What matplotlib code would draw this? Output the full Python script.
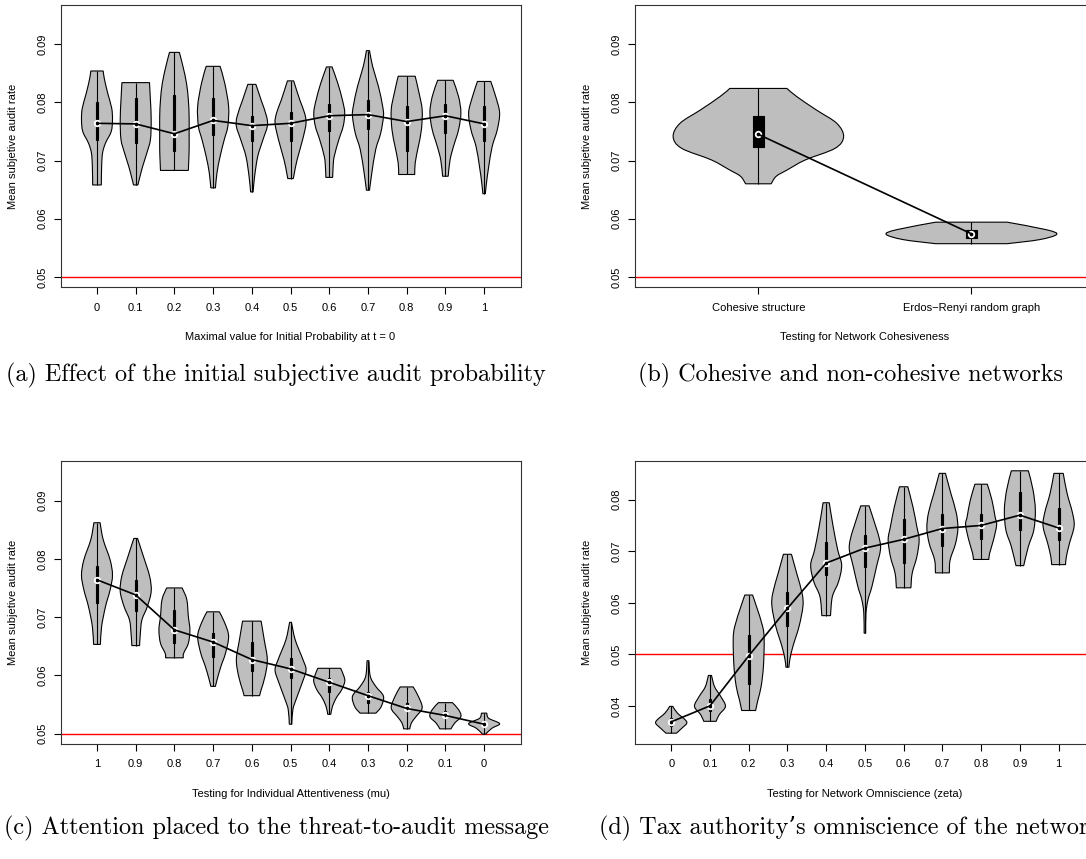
import matplotlib
matplotlib.use("Agg")
import matplotlib.pyplot as plt
from matplotlib.path import Path
from matplotlib.patches import PathPatch, Rectangle

plt.rcParams['font.family'] = ['Liberation Sans', 'DejaVu Sans']

# ---------------- data ----------------
# (a) initial probability
a_labels = ['0', '0.1', '0.2', '0.3', '0.4', '0.5', '0.6', '0.7', '0.8', '0.9', '1']
a_med = [0.0764, 0.0763, 0.0746, 0.0769, 0.0760, 0.0764, 0.0777, 0.0779, 0.0767, 0.0777, 0.0763]
a_q1 = [0.0735, 0.0730, 0.0716, 0.0744, 0.0734, 0.0733, 0.0750, 0.0755, 0.0717, 0.0748, 0.0733]
a_q3 = [0.0800, 0.0807, 0.0813, 0.0807, 0.0777, 0.0783, 0.0798, 0.0804, 0.0794, 0.0798, 0.0794]
# violin outline: (value, relative half width) from bottom to top
a_prof = [
    [(0.0658, 0.28), (0.0690, 0.30), (0.0713, 0.36), (0.0730, 0.55), (0.0750, 0.92), (0.0770, 1.0), (0.0790, 0.95), (0.0815, 0.70), (0.0840, 0.48), (0.0854, 0.40)],
    [(0.0658, 0.14), (0.0673, 0.28), (0.0690, 0.45), (0.0713, 0.72), (0.0736, 0.95), (0.0770, 1.0), (0.0804, 0.95), (0.0834, 0.89)],
    [(0.0683, 0.90), (0.0696, 0.92), (0.0719, 0.95), (0.0747, 0.95), (0.0776, 0.95), (0.0804, 0.90), (0.0833, 0.78), (0.0862, 0.55), (0.0886, 0.32)],
    [(0.0653, 0.15), (0.0679, 0.25), (0.0707, 0.45), (0.0736, 0.72), (0.0759, 0.95), (0.0793, 1.0), (0.0833, 0.75), (0.0862, 0.45)],
    [(0.0646, 0.08), (0.0673, 0.18), (0.0707, 0.38), (0.0736, 0.72), (0.0759, 1.0), (0.0776, 0.95), (0.0804, 0.60), (0.0831, 0.26)],
    [(0.0669, 0.18), (0.0679, 0.25), (0.0701, 0.42), (0.0736, 0.78), (0.0764, 1.0), (0.0782, 0.90), (0.0804, 0.60), (0.0837, 0.20)],
    [(0.0671, 0.22), (0.0690, 0.25), (0.0707, 0.32), (0.0736, 0.62), (0.0759, 0.90), (0.0782, 1.0), (0.0804, 0.85), (0.0833, 0.55), (0.0861, 0.18)],
    [(0.0649, 0.10), (0.0679, 0.25), (0.0719, 0.50), (0.0747, 0.82), (0.0776, 1.0), (0.0793, 0.95), (0.0827, 0.68), (0.0862, 0.30), (0.0889, 0.10)],
    [(0.0676, 0.52), (0.0696, 0.55), (0.0724, 0.75), (0.0753, 0.95), (0.0787, 1.0), (0.0816, 0.80), (0.0845, 0.55)],
    [(0.0673, 0.18), (0.0701, 0.30), (0.0724, 0.52), (0.0753, 0.85), (0.0782, 1.0), (0.0810, 0.85), (0.0838, 0.50)],
    [(0.0643, 0.08), (0.0661, 0.15), (0.0690, 0.30), (0.0724, 0.52), (0.0753, 0.85), (0.0782, 1.0), (0.0810, 0.75), (0.0836, 0.43)],
]

# (b) cohesiveness
b_labels = ['Cohesive structure', 'Erdos\u2212Renyi random graph']
b_med = [0.0745, 0.0574]
b_q1 = [0.0723, 0.0566]
b_q3 = [0.0777, 0.0581]
b_prof = [
    [(0.0660, 0.15), (0.0673, 0.21), (0.0684, 0.34), (0.0701, 0.55), (0.0721, 0.90), (0.0741, 1.0), (0.0764, 0.92), (0.0787, 0.68), (0.0810, 0.45), (0.0824, 0.335)],
    [(0.0557, 0.42), (0.0564, 0.80), (0.0573, 1.0), (0.0581, 0.88), (0.0594, 0.42)],
]

# (c) attentiveness mu
c_labels = ['1', '0.9', '0.8', '0.7', '0.6', '0.5', '0.4', '0.3', '0.2', '0.1', '0']
c_med = [0.0764, 0.0738, 0.0678, 0.0657, 0.0627, 0.0611, 0.0588, 0.0565, 0.0543, 0.0531, 0.0516]
c_q1 = [0.0724, 0.0711, 0.0656, 0.0631, 0.0608, 0.0595, 0.0572, 0.0552, 0.0545, 0.0532, 0.0514]
c_q3 = [0.0787, 0.0764, 0.0712, 0.0672, 0.0658, 0.0629, 0.0595, 0.0571, 0.0553, 0.0539, 0.0521]
c_prof = [
    [(0.0653, 0.22), (0.0684, 0.30), (0.0718, 0.55), (0.0747, 0.85), (0.0772, 1.0), (0.0798, 0.85), (0.0833, 0.40), (0.0862, 0.20)],
    [(0.0651, 0.25), (0.0672, 0.30), (0.0695, 0.40), (0.0718, 0.75), (0.0744, 1.0), (0.0770, 0.90), (0.0804, 0.50), (0.0835, 0.12)],
    [(0.0630, 0.57), (0.0638, 0.60), (0.0655, 0.90), (0.0678, 1.0), (0.0701, 0.90), (0.0730, 0.80), (0.0750, 0.50)],
    [(0.0581, 0.15), (0.0592, 0.25), (0.0615, 0.50), (0.0638, 0.80), (0.0667, 1.0), (0.0690, 0.75), (0.0709, 0.40)],
    [(0.0565, 0.50), (0.0575, 0.60), (0.0598, 0.85), (0.0627, 1.0), (0.0661, 0.80), (0.0693, 0.60)],
    [(0.0516, 0.08), (0.0541, 0.15), (0.0558, 0.35), (0.0587, 0.75), (0.0609, 1.0), (0.0627, 0.80), (0.0661, 0.30), (0.0691, 0.06)],
    [(0.0533, 0.10), (0.0546, 0.20), (0.0561, 0.45), (0.0575, 0.80), (0.0589, 1.0), (0.0598, 0.95), (0.0612, 0.74)],
    [(0.0535, 0.51), (0.0546, 0.85), (0.0564, 1.0), (0.0581, 0.50), (0.0598, 0.15), (0.0625, 0.06)],
    [(0.0508, 0.20), (0.0518, 0.30), (0.0529, 0.60), (0.0544, 1.0), (0.0564, 0.75), (0.0580, 0.42)],
    [(0.0508, 0.36), (0.0518, 0.60), (0.0529, 1.0), (0.0541, 0.85), (0.0553, 0.45)],
    [(0.0499, 0.10), (0.0509, 0.50), (0.0517, 1.0), (0.0526, 0.30), (0.0535, 0.17)],
]

# (d) omniscience zeta
d_labels = ['0', '0.1', '0.2', '0.3', '0.4', '0.5', '0.6', '0.7', '0.8', '0.9', '1']
d_med = [0.0369, 0.0400, 0.0497, 0.0589, 0.0677, 0.0706, 0.0723, 0.0744, 0.0750, 0.0770, 0.0745]
d_q1 = [0.0361, 0.0390, 0.0443, 0.0555, 0.0653, 0.0670, 0.0677, 0.0711, 0.0723, 0.0741, 0.0722]
d_q3 = [0.0376, 0.0414, 0.0538, 0.0620, 0.0717, 0.0731, 0.0763, 0.0772, 0.0772, 0.0815, 0.0783]
d_prof = [
    [(0.0347, 0.34), (0.0357, 0.70), (0.0366, 1.0), (0.0373, 0.90), (0.0386, 0.40), (0.0399, 0.10)],
    [(0.0370, 0.40), (0.0383, 0.60), (0.0399, 1.0), (0.0418, 0.70), (0.0437, 0.30), (0.0459, 0.10)],
    [(0.0391, 0.45), (0.0412, 0.60), (0.0437, 0.80), (0.0476, 0.95), (0.0528, 1.0), (0.0554, 0.90), (0.0593, 0.50), (0.0615, 0.25)],
    [(0.0475, 0.10), (0.0489, 0.15), (0.0515, 0.35), (0.0554, 0.75), (0.0593, 1.0), (0.0618, 0.95), (0.0657, 0.60), (0.0694, 0.26)],
    [(0.0575, 0.28), (0.0612, 0.40), (0.0641, 0.80), (0.0673, 1.0), (0.0702, 0.75), (0.0748, 0.45), (0.0794, 0.20)],
    [(0.0541, 0.05), (0.0580, 0.07), (0.0606, 0.20), (0.0631, 0.45), (0.0670, 0.75), (0.0702, 1.0), (0.0722, 0.95), (0.0748, 0.70), (0.0788, 0.27)],
    [(0.0629, 0.47), (0.0657, 0.55), (0.0689, 0.85), (0.0722, 1.0), (0.0748, 0.85), (0.0786, 0.60), (0.0825, 0.27)],
    [(0.0658, 0.45), (0.0683, 0.50), (0.0715, 0.85), (0.0744, 1.0), (0.0774, 0.90), (0.0812, 0.55), (0.0851, 0.20)],
    [(0.0684, 0.50), (0.0696, 0.55), (0.0722, 0.80), (0.0751, 1.0), (0.0767, 0.90), (0.0799, 0.70), (0.0830, 0.40)],
    [(0.0672, 0.25), (0.0709, 0.55), (0.0741, 0.90), (0.0780, 1.0), (0.0819, 0.85), (0.0856, 0.55)],
    [(0.0674, 0.45), (0.0689, 0.50), (0.0715, 0.70), (0.0748, 1.0), (0.0774, 0.90), (0.0812, 0.55), (0.0851, 0.30)],
]

yticks_abc = [0.05, 0.06, 0.07, 0.08, 0.09]
yticks_d = [0.04, 0.05, 0.06, 0.07, 0.08]
threshold = 0.05


def smooth(pts):
    # catmull-rom through the outline points, as bezier pieces
    verts = []
    n = len(pts)
    for i in range(n - 1):
        p0 = pts[max(i - 1, 0)]
        p1 = pts[i]
        p2 = pts[i + 1]
        p3 = pts[min(i + 2, n - 1)]
        c1 = (p1[0] + (p2[0] - p0[0]) / 6, p1[1] + (p2[1] - p0[1]) / 6)
        c2 = (p2[0] - (p3[0] - p1[0]) / 6, p2[1] - (p3[1] - p1[1]) / 6)
        verts += [c1, c2, p2]
    return verts


def violin(ax, pos, prof, q1, q3, med):
    right = [(pos + 0.4 * w, v) for v, w in prof]
    left = [(pos - 0.4 * w, v) for v, w in prof][::-1]
    verts = [left[-1], right[0]]
    codes = [Path.MOVETO, Path.LINETO]
    seg = smooth(right)
    verts += seg
    codes += [Path.CURVE4] * len(seg)
    verts.append(left[0])
    codes.append(Path.LINETO)
    seg = smooth(left)
    verts += seg
    codes += [Path.CURVE4] * len(seg)
    verts.append(left[-1])
    codes.append(Path.CLOSEPOLY)
    ax.add_patch(PathPatch(Path(verts, codes), facecolor='#BEBEBE', edgecolor='black', lw=0.8, zorder=2))
    ax.vlines(pos, prof[0][0], prof[-1][0], color='black', lw=0.8, zorder=3)
    ax.add_patch(Rectangle((pos - 0.025, q1), 0.05, q3 - q1, facecolor='black', edgecolor='black', lw=0.8, zorder=3))
    ax.plot(pos, med, 'o', ms=4, mfc='none', mec='white', mew=1.3, zorder=4)


def panel(rect, labels, profs, q1s, q3s, meds, ylim, yticks, xlabel):
    ax = fig.add_axes(rect)
    n = len(labels)
    pos = list(range(1, n + 1))
    ax.axhline(threshold, color='red', lw=1.0, zorder=1.5)
    for i in range(n):
        violin(ax, pos[i], profs[i], q1s[i], q3s[i], meds[i])
    ax.plot(pos, meds, color='black', lw=1.2, zorder=5)
    pad = 0.04 * n
    ax.set_xlim(0.5 - pad, n + 0.5 + pad)
    ax.set_ylim(*ylim)
    ax.set_xticks(pos)
    ax.set_xticklabels(labels)
    ax.set_yticks(yticks)
    ax.set_yticklabels(['%g' % t for t in yticks], rotation=90, va='center')
    ax.tick_params(direction='out', length=5, width=0.8, labelsize=8, color='black')
    ax.tick_params(axis='x', pad=6)
    ax.tick_params(axis='y', pad=4.5)
    for s in ax.spines.values():
        s.set_linewidth(0.8)
        s.set_color('#333333')
    ax.set_xlabel(xlabel, fontsize=8, va='center')
    ax.xaxis.set_label_coords(0.5, -0.176)
    ax.set_ylabel('Mean subjetive audit rate', fontsize=8, va='center')
    ax.yaxis.set_label_coords(-0.103, 0.5)
    return ax


W, H = 1086, 859
fig = plt.figure(figsize=(W / 100, H / 100), dpi=100)


def rect(x0, x1, y0, y1):
    return [x0 / W, 1 - y1 / H, (x1 - x0) / W, (y1 - y0) / H]


ylim_abc = (0.0482, 0.0968)
panel(rect(60.6, 520.5, 4.7, 287.3), a_labels, a_prof, a_q1, a_q3, a_med, ylim_abc, yticks_abc,
      'Maximal value for Initial Probability at t = 0')
panel(rect(634.8, 1095.0, 4.7, 287.3), b_labels, b_prof, b_q1, b_q3, b_med, ylim_abc, yticks_abc,
      'Testing for Network Cohesiveness')
panel(rect(60.6, 520.5, 461.0, 744.0), c_labels, c_prof, c_q1, c_q3, c_med, ylim_abc, yticks_abc,
      'Testing for Individual Attentiveness (mu)')
panel(rect(634.8, 1095.0, 461.0, 744.0), d_labels, d_prof, d_q1, d_q3, d_med, (0.0326, 0.0875), yticks_d,
      'Testing for Network Omniscience (zeta)')

# sub-captions (the last one runs past the right edge, as in the source)
captions = [
    (276, 381, '(a) Effect of the initial subjective audit probability'),
    (850, 381, '(b) Cohesive and non-cohesive networks'),
    (276, 834, '(c) Attention placed to the threat-to-audit message'),
    (850, 834, '(d) Tax authority\u2019s omniscience of the network'),
]
for x, y, t in captions:
    fig.text(x / W, 1 - y / H, t, ha='center', va='baseline', fontsize=17.4,
             family=['cmr10', 'DejaVu Serif'])

fig.savefig('out.png', dpi=100)
